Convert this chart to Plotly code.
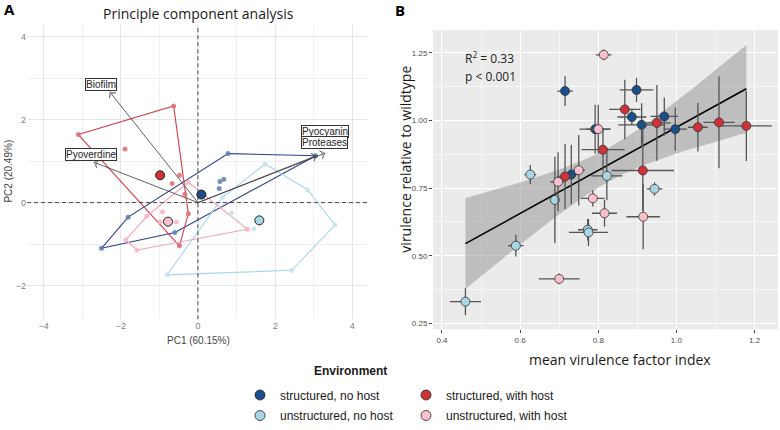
import numpy as np
import plotly.graph_objects as go

W, H = 780, 430
def fx(p): return p / W
def fy(p): return 1 - p / H

# ---------------- Panel A data (PCA) ----------------
groups = ["structured, no host", "structured, with host", "unstructured, no host", "unstructured, with host"]
sn_pc1 = [-2.5, -1.81, -0.6, 0.55, 0.57, 0.67, 0.78, 3.05]
sn_pc2 = [-1.1, -0.35, -0.72, 0.34, 0.51, 0.56, 1.18, 1.13]
sh_pc1 = [-3.1, -1.89, -0.63, -0.48, -0.67, -0.34, -0.25, -0.48]
sh_pc2 = [1.64, 1.29, 2.33, 0.66, 0.46, 0.2, -0.27, -1.04]
un_pc1 = [1.74, 2.84, 3.55, 2.43, -0.8, 0.64, 0.87, 1.45]
un_pc2 = [0.93, 0.31, -0.54, -1.63, -1.74, 0.13, -0.25, -0.63]
uh_pc1 = [-1.87, -1.58, -1.33, -0.92, -0.98, -0.56, -0.25, 1.28]
uh_pc2 = [-0.9, -1.14, -0.33, -0.22, -0.46, -0.47, 0.49, -0.64]

load_names = ["Biofilm", "Pyoverdine", "Pyocyanin", "Proteases"]
load_pc1 = [-2.28, -2.69, 3.29, 3.07]
load_pc2 = [2.66, 0.97, 1.19, 1.13]
label_pc1 = [-2.51, -2.77, 3.28, 3.28]
label_pc2 = [2.84, 1.17, 1.72, 1.44]

# ---------------- Panel B data ----------------
sn_vfi = [0.715, 0.898, 0.886, 0.911, 0.969, 0.997, 0.792, 0.731]
sn_vir = [1.109, 1.113, 1.013, 0.984, 1.015, 0.968, 0.968, 0.800]
sn_vfi_err = [0.02, 0.043, 0.037, 0.06, 0.035, 0.03, 0.04, 0.02]
sn_vir_err = [0.055, 0.045, 0.03, 0.08, 0.07, 0.08, 0.09, 0.11]

sh_vfi = [0.868, 0.95, 1.055, 1.109, 1.179, 0.812, 0.914, 0.715]
sh_vir = [1.041, 0.991, 0.975, 0.993, 0.980, 0.892, 0.815, 0.793]
sh_vfi_err = [0.04, 0.035, 0.025, 0.04, 0.065, 0.055, 0.08, 0.02]
sh_vir_err = [0.11, 0.14, 0.09, 0.17, 0.13, 0.08, 0.15, 0.12]

un_vfi = [0.822, 0.626, 0.944, 0.689, 0.773, 0.775, 0.589, 0.46]
un_vir = [0.795, 0.800, 0.747, 0.706, 0.596, 0.586, 0.537, 0.33]
un_vfi_err = [0.04, 0.015, 0.02, 0.01, 0.025, 0.05, 0.02, 0.04]
un_vir_err = [0.09, 0.035, 0.025, 0.16, 0.04, 0.05, 0.04, 0.05]

uh_vfi = [0.814, 0.80, 0.750, 0.697, 0.786, 0.816, 0.915, 0.70]
uh_vir = [1.243, 0.968, 0.816, 0.773, 0.712, 0.657, 0.644, 0.414]
uh_vfi_err = [0.02, 0.03, 0.015, 0.02, 0.03, 0.032, 0.043, 0.052]
uh_vir_err = [0.02, 0.09, 0.13, 0.11, 0.03, 0.05, 0.12, 0.02]

fill_cols = ["#1a4f8b", "#d0323a", "#a9d6e5", "#fbc0cb"]
hull_cols = ["#2c3f8f", "#d23c44", "#a9d6ea", "#f0a3b7"]
pt_cols = ["#5d7fb0", "#dc6e73", "#c7e3ee", "#f6b6c3"]

pca_x = [sn_pc1, sh_pc1, un_pc1, uh_pc1]
pca_y = [sn_pc2, sh_pc2, un_pc2, uh_pc2]
vfi = [sn_vfi, sh_vfi, un_vfi, uh_vfi]
vir = [sn_vir, sh_vir, un_vir, uh_vir]
vfi_err = [sn_vfi_err, sh_vfi_err, un_vfi_err, uh_vfi_err]
vir_err = [sn_vir_err, sh_vir_err, un_vir_err, uh_vir_err]


def convex_hull(xs, ys):
    pts = sorted(set(zip(xs, ys)))
    def cross(o, a, b):
        return (a[0]-o[0])*(b[1]-o[1]) - (a[1]-o[1])*(b[0]-o[0])
    lower, upper = [], []
    for p in pts:
        while len(lower) >= 2 and cross(lower[-2], lower[-1], p) <= 0:
            lower.pop()
        lower.append(p)
    for p in reversed(pts):
        while len(upper) >= 2 and cross(upper[-2], upper[-1], p) <= 0:
            upper.pop()
        upper.append(p)
    h = lower[:-1] + upper[:-1]
    h.append(h[0])
    return [p[0] for p in h], [p[1] for p in h]


fig = go.Figure()

# ---- Panel A traces ----
for i in range(4):
    hx, hy = convex_hull(pca_x[i], pca_y[i])
    fig.add_trace(go.Scatter(x=hx, y=hy, mode="lines", line=dict(color=hull_cols[i], width=1.1),
                             xaxis="x", yaxis="y", showlegend=False, hoverinfo="skip"))
for i in range(4):
    fig.add_trace(go.Scatter(x=pca_x[i], y=pca_y[i], mode="markers",
                             marker=dict(color=pt_cols[i], size=5, opacity=0.85),
                             xaxis="x", yaxis="y", showlegend=False))
for i in range(4):
    fig.add_trace(go.Scatter(x=[np.mean(pca_x[i])], y=[np.mean(pca_y[i])], mode="markers",
                             marker=dict(color=fill_cols[i], size=9, line=dict(color="#222", width=1)),
                             xaxis="x", yaxis="y", showlegend=False))
for j in range(4):
    fig.add_trace(go.Scatter(x=[0, load_pc1[j]], y=[0, load_pc2[j]], mode="lines+markers",
                             line=dict(color="#3a3a3a", width=0.8),
                             marker=dict(symbol="arrow-wide-open", size=[0, 6], angleref="previous",
                                         color="#3a3a3a", line=dict(color="#3a3a3a", width=0.8)),
                             xaxis="x", yaxis="y", showlegend=False, hoverinfo="skip"))

# ---- Panel B traces ----
all_x = np.concatenate([np.array(v) for v in vfi])
all_y = np.concatenate([np.array(v) for v in vir])
slope, intercept = np.polyfit(all_x, all_y, 1)
n = len(all_x)
resid = all_y - (slope * all_x + intercept)
s = np.sqrt(np.sum(resid ** 2) / (n - 2))
xbar = all_x.mean()
sxx = np.sum((all_x - xbar) ** 2)
xs = np.linspace(all_x.min(), all_x.max(), 80)
yfit = slope * xs + intercept
se = s * np.sqrt(1 / n + (xs - xbar) ** 2 / sxx)
tval = 2.042
fig.add_trace(go.Scatter(x=np.concatenate([xs, xs[::-1]]),
                         y=np.concatenate([yfit + tval * se, (yfit - tval * se)[::-1]]),
                         fill="toself", fillcolor="rgba(153,153,153,0.55)", line=dict(width=0),
                         xaxis="x2", yaxis="y2", showlegend=False, hoverinfo="skip"))
fig.add_trace(go.Scatter(x=xs, y=yfit, mode="lines", line=dict(color="black", width=1.6),
                         xaxis="x2", yaxis="y2", showlegend=False, hoverinfo="skip"))
for i in range(4):
    fig.add_trace(go.Scatter(x=vfi[i], y=vir[i], mode="markers",
                             marker=dict(color=fill_cols[i], size=9, line=dict(color="#333", width=0.8)),
                             error_x=dict(type="data", array=vfi_err[i], color="#555", thickness=1.3, width=0),
                             error_y=dict(type="data", array=vir_err[i], color="#555", thickness=1.3, width=0),
                             xaxis="x2", yaxis="y2", showlegend=False))

# ---- Legend traces ----
for i in range(4):
    fig.add_trace(go.Scatter(x=[None], y=[None], mode="markers", name=groups[i],
                             marker=dict(color=fill_cols[i], size=10, line=dict(color="#222", width=0.8)),
                             xaxis="x2", yaxis="y2", showlegend=True,
                             legend="legend" if i < 2 else "legend2"))

# reference lines panel A
fig.add_shape(type="line", xref="x", yref="y domain", x0=0, x1=0, y0=0, y1=1,
              line=dict(color="#333", width=0.9, dash="4px,3px"))
fig.add_shape(type="line", xref="x domain", yref="y", x0=0, x1=1, y0=0, y1=0,
              line=dict(color="#333", width=0.9, dash="4px,3px"))
# grey panel B background
fig.add_shape(type="rect", xref="x2 domain", yref="y2 domain", x0=0, x1=1, y0=0, y1=1,
              fillcolor="#ebebeb", line=dict(width=0), layer="below")

tickfontA = dict(family="Liberation Sans, Arial", size=9, color="#7f7f7f")
tickfontB = dict(family="Liberation Sans, Arial", size=8, color="#4d4d4d")

fig.update_layout(
    width=W, height=H, margin=dict(l=0, r=0, t=0, b=0),
    paper_bgcolor="white", plot_bgcolor="white",
    xaxis=dict(domain=[fx(27), fx(367)], range=[-4.43, 4.38], tick0=-4, dtick=2,
               showgrid=True, gridcolor="#e6e6e6", gridwidth=0.8, zeroline=False,
               minor=dict(dtick=1, showgrid=True, gridcolor="#f0f0f0", gridwidth=0.6),
               tickfont=tickfontA, ticks="", showline=False, anchor="y", automargin=False),
    yaxis=dict(domain=[fy(320), fy(25)], range=[-2.81, 4.28], tick0=-2, dtick=2,
               showgrid=True, gridcolor="#e6e6e6", gridwidth=0.8, zeroline=False,
               minor=dict(dtick=1, showgrid=True, gridcolor="#f0f0f0", gridwidth=0.6),
               tickfont=tickfontA, ticks="", showline=False, anchor="x", automargin=False),
    xaxis2=dict(domain=[fx(433), fx(778)], range=[0.377, 1.26], tick0=0.4, dtick=0.2,
                tickformat=".1f", showgrid=True, gridcolor="white", gridwidth=1.1, zeroline=False,
                minor=dict(dtick=0.1, showgrid=True, gridcolor="#f7f7f7", gridwidth=0.5),
                tickfont=tickfontB, ticks="outside", ticklen=3, tickcolor="#444",
                showline=False, anchor="y2", automargin=False),
    yaxis2=dict(domain=[fy(330), fy(30)], range=[0.228, 1.335], tick0=0.25, dtick=0.25,
                tickformat=".2f", showgrid=True, gridcolor="white", gridwidth=1.1, zeroline=False,
                minor=dict(dtick=0.125, showgrid=True, gridcolor="#f7f7f7", gridwidth=0.5),
                tickfont=tickfontB, ticks="outside", ticklen=3, tickcolor="#444",
                showline=False, anchor="x2", automargin=False),
    legend=dict(orientation="h", x=fx(240), y=fy(395), xanchor="left", yanchor="middle",
                entrywidth=121, font=dict(family="Liberation Sans, Arial", size=12, color="#1a1a1a"),
                bgcolor="rgba(0,0,0,0)", tracegroupgap=0),
    legend2=dict(orientation="h", x=fx(240), y=fy(416), xanchor="left", yanchor="middle",
                 entrywidth=121, font=dict(family="Liberation Sans, Arial", size=12, color="#1a1a1a"),
                 bgcolor="rgba(0,0,0,0)", tracegroupgap=0),
)

def pann(x, y, text, font, **kw):
    d = dict(x=fx(x), y=fy(y), xref="paper", yref="paper", text=text, showarrow=False,
             xanchor="center", yanchor="middle", font=font)
    d.update(kw)
    return d

ann = []
# loadings labels
for j in range(4):
    ann.append(dict(x=label_pc1[j], y=label_pc2[j], xref="x", yref="y", text=load_names[j],
                    showarrow=False, xanchor="center", yanchor="middle",
                    font=dict(family="Liberation Sans, Arial", size=10, color="#222"),
                    bgcolor="white", bordercolor="#333", borderwidth=1, borderpad=0))
ann += [
    pann(9, 9, "<b>A</b>", dict(family="Open Sans", size=15, color="black")),
    pann(400, 10, "<b>B</b>", dict(family="Open Sans", size=15, color="black")),
    pann(198, 14, "Principle component analysis", dict(family="Open Sans", size=14, color="#1a1a1a")),
    pann(198, 341, "PC1 (60.15%)", dict(family="Liberation Sans, Arial", size=10, color="#444")),
    pann(9, 172, "PC2 (20.49%)", dict(family="Liberation Sans, Arial", size=10, color="#444"), textangle=-90),
    pann(620, 360, "mean virulence factor index", dict(family="Open Sans", size=14, color="#1a1a1a")),
    pann(406, 160, "virulence relative to wildtype", dict(family="Open Sans", size=14, color="#1a1a1a"),
         textangle=-90),
    pann(463, 58, "R<sup>2</sup> = 0.33", dict(family="Open Sans", size=12, color="#222"), xanchor="left"),
    pann(463, 77, "p < 0.001", dict(family="Open Sans", size=12, color="#222"), xanchor="left"),
    pann(350, 372, "<b>Environment</b>", dict(family="Liberation Sans, Arial", size=12, color="#1a1a1a")),
]
fig.update_layout(annotations=ann)

fig.write_html("out.html", config={"displayModeBar": False},
               post_script="document.body.style.margin='0';")
